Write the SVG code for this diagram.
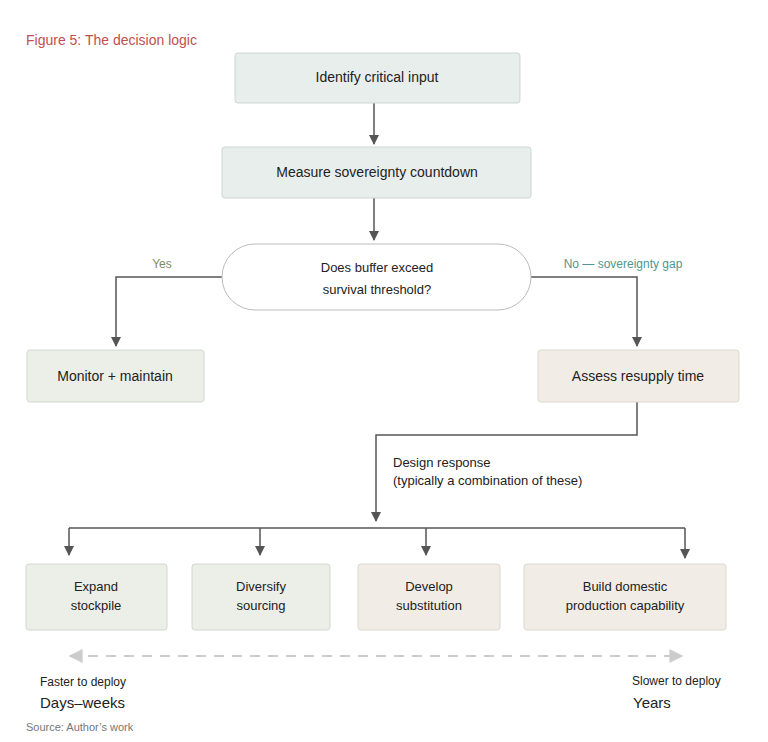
<svg xmlns="http://www.w3.org/2000/svg" width="768" height="742" viewBox="0 0 768 742">
<style>
text{font-family:"Liberation Sans",Arial,sans-serif;fill:#222}
.n{font-size:14px;text-anchor:middle}
.s{font-size:13px;text-anchor:middle}
.top{fill:#e8eeec;stroke:#cdd5d3}
.g{fill:#ebefe8;stroke:#d2d8cf}
.b{fill:#f1ede6;stroke:#ddd8cf}
.c{fill:none;stroke:#555;stroke-width:1.5}
</style>
<defs>
<marker id="a" viewBox="0 0 10 10" refX="9" refY="5" markerWidth="7" markerHeight="7" orient="auto"><path d="M0,0L10,5L0,10z" fill="#555"/></marker>
<marker id="d" viewBox="0 0 10 10" refX="9" refY="5" markerWidth="7" markerHeight="7" orient="auto-start-reverse"><path d="M0,0L10,5L0,10z" fill="#ccc"/></marker>
</defs>
<text x="26" y="45" style="font-size:14px;fill:#c0504d">Figure 5: The decision logic</text>
<g id="connectors">
<path class="c" d="M374,103V144" marker-end="url(#a)"/>
<path class="c" d="M374,198V240" marker-end="url(#a)"/>
<path class="c" d="M222,277H116V346" marker-end="url(#a)"/>
<path class="c" d="M531,277H637V346" marker-end="url(#a)"/>
<path class="c" d="M637,402V435H376V521" marker-end="url(#a)"/>
<path class="c" d="M69,528H685"/>
<path class="c" d="M69,528V555" marker-end="url(#a)"/>
<path class="c" d="M260,528V555" marker-end="url(#a)"/>
<path class="c" d="M426,528V555" marker-end="url(#a)"/>
<path class="c" d="M685,528V558" marker-end="url(#a)"/>
<text x="162" y="268" style="font-size:12px;fill:#7c8b66;text-anchor:middle">Yes</text>
<text x="623" y="268" style="font-size:12px;fill:#4f9690;text-anchor:middle">No — sovereignty gap</text>
<text x="393" y="467" style="font-size:13px">Design response</text>
<text x="393" y="485" style="font-size:13px">(typically a combination of these)</text>
<path d="M70,656H682" stroke="#ccc" stroke-width="2" stroke-dasharray="10,8" fill="none" marker-start="url(#d)" marker-end="url(#d)"/>
</g>
<g id="n1"><rect class="top" x="235" y="53" width="285" height="50" rx="3"/><text class="n" x="377" y="82">Identify critical input</text></g>
<g id="n2"><rect class="top" x="222" y="147" width="309" height="51" rx="3"/><text class="n" x="377" y="177">Measure sovereignty countdown</text></g>
<g id="n3"><rect x="222" y="244" width="309" height="66" rx="33" fill="#fff" stroke="#bbb"/><text class="s" x="377" y="272">Does buffer exceed</text><text class="s" x="377" y="294">survival threshold?</text></g>
<g id="n4"><rect class="g" x="27" y="350" width="177" height="52" rx="3"/><text class="n" x="115" y="381">Monitor + maintain</text></g>
<g id="n5"><rect class="b" x="538" y="350" width="201" height="52" rx="3"/><text class="n" x="638" y="381">Assess resupply time</text></g>
<g id="n6"><rect class="g" x="26" y="564" width="141" height="66" rx="3"/><text class="s" x="96" y="591">Expand</text><text class="s" x="96" y="610">stockpile</text></g>
<g id="n7"><rect class="g" x="192" y="564" width="138" height="66" rx="3"/><text class="s" x="261" y="591">Diversify</text><text class="s" x="261" y="610">sourcing</text></g>
<g id="n8"><rect class="b" x="358" y="564" width="142" height="66" rx="3"/><text class="s" x="429" y="591">Develop</text><text class="s" x="429" y="610">substitution</text></g>
<g id="n9"><rect class="b" x="524" y="564" width="202" height="66" rx="3"/><text class="s" x="625" y="591">Build domestic</text><text class="s" x="625" y="610">production capability</text></g>
<text x="40" y="686" style="font-size:12px">Faster to deploy</text>
<text x="40" y="708" style="font-size:15px">Days–weeks</text>
<text x="632" y="685" style="font-size:12px">Slower to deploy</text>
<text x="633" y="708" style="font-size:15px">Years</text>
<text x="26" y="731" style="font-size:11px;fill:#777">Source: Author’s work</text>
</svg>
